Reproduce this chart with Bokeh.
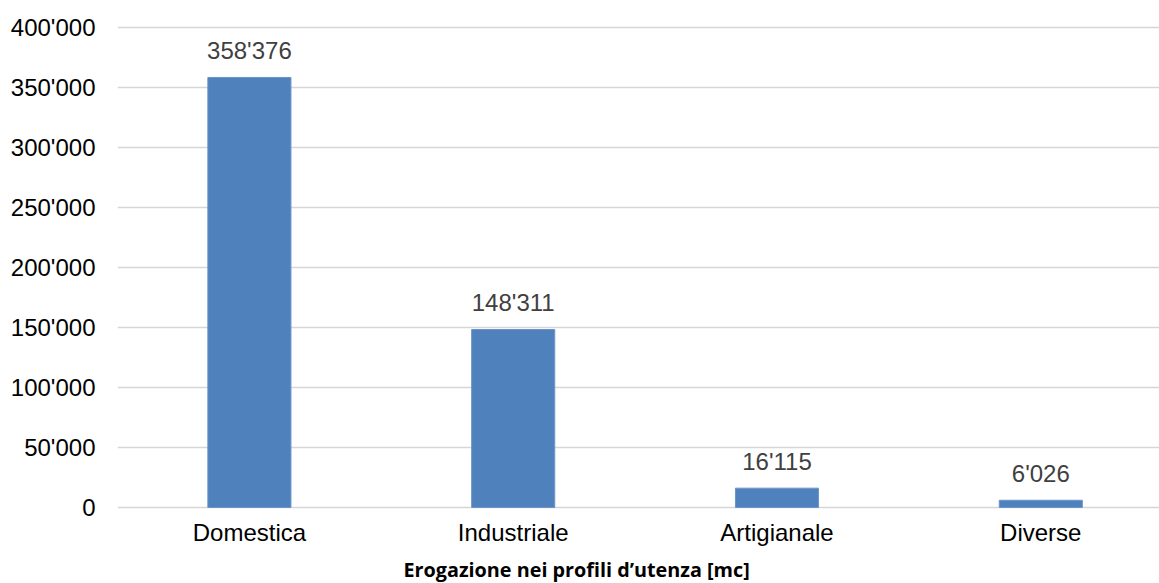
import numpy as np
from bokeh.plotting import figure
from bokeh.models import (ColumnDataSource, Range1d, FixedTicker, SingleIntervalTicker,
                          CustomJSTickFormatter, Title)
from bokeh.embed import file_html
from bokeh.resources import INLINE

categories = ["Domestica", "Industriale", "Artigianale", "Diverse"]
values = [358376, 148311, 16115, 6026]
y_ticks_interval = 50000
x_title = "Erogazione nei profili d\u2019utenza [mc]"

xs = list(range(len(categories)))
labels = [f"{v:,}".replace(",", "'") for v in values]
src = ColumnDataSource(dict(x=xs, top=values, label=labels))

p = figure(frame_width=1042, frame_height=515, output_backend="svg", toolbar_location=None,
           x_range=Range1d(-0.5, 3.45), y_range=Range1d(-6675, 422520),
           min_border_left=117, min_border_right=0, min_border_top=0,
           min_border_bottom=0)
p.outline_line_color = None
p.background_fill_color = "white"
p.border_fill_color = "white"

p.vbar(x="x", top="top", width=0.315, bottom=0, source=src,
       fill_color="#4f81bd", line_color="#6a95c8", line_width=1)
p.text(x="x", y="top", text="label", source=src, text_align="center",
       text_baseline="alphabetic", y_offset=-27, text_color="#404040",
       text_font_size="24px", text_font={"value": "Liberation Sans"})

# grid
p.xgrid.grid_line_color = None
p.ygrid.grid_line_color = "#d6d6d6"
p.ygrid.grid_line_width = 1.7

# y axis
p.yaxis.ticker = SingleIntervalTicker(interval=y_ticks_interval)
p.yaxis.formatter = CustomJSTickFormatter(code="""
  return Math.round(tick).toString().replace(/\\B(?=(\\d{3})+(?!\\d))/g, "'");
""")
p.yaxis.axis_line_color = None
p.yaxis.major_tick_line_color = None
p.yaxis.minor_tick_line_color = None
p.yaxis.major_tick_out = 0
p.yaxis.major_label_standoff = 18
p.yaxis.major_label_text_font = "Liberation Sans"
p.yaxis.major_label_text_font_size = "24px"
p.yaxis.major_label_text_color = "black"

# x axis
p.xaxis.ticker = FixedTicker(ticks=xs)
p.xaxis.major_label_overrides = {i: c for i, c in zip(xs, categories)}
p.xaxis.axis_line_color = None
p.xaxis.major_tick_line_color = None
p.xaxis.minor_tick_line_color = None
p.xaxis.major_tick_out = 0
p.xaxis.major_label_standoff = 3
p.xaxis.major_label_text_font = "Liberation Sans"
p.xaxis.major_label_text_font_size = "24px"
p.xaxis.major_label_text_color = "black"

t = Title(text=x_title, align="left", offset=286, standoff=11,
          text_font="Open Sans", text_font_style="bold", text_font_size="19.8px",
          text_color="black")
p.add_layout(t, "below")

open("out.html", "w").write(file_html(p, INLINE))
